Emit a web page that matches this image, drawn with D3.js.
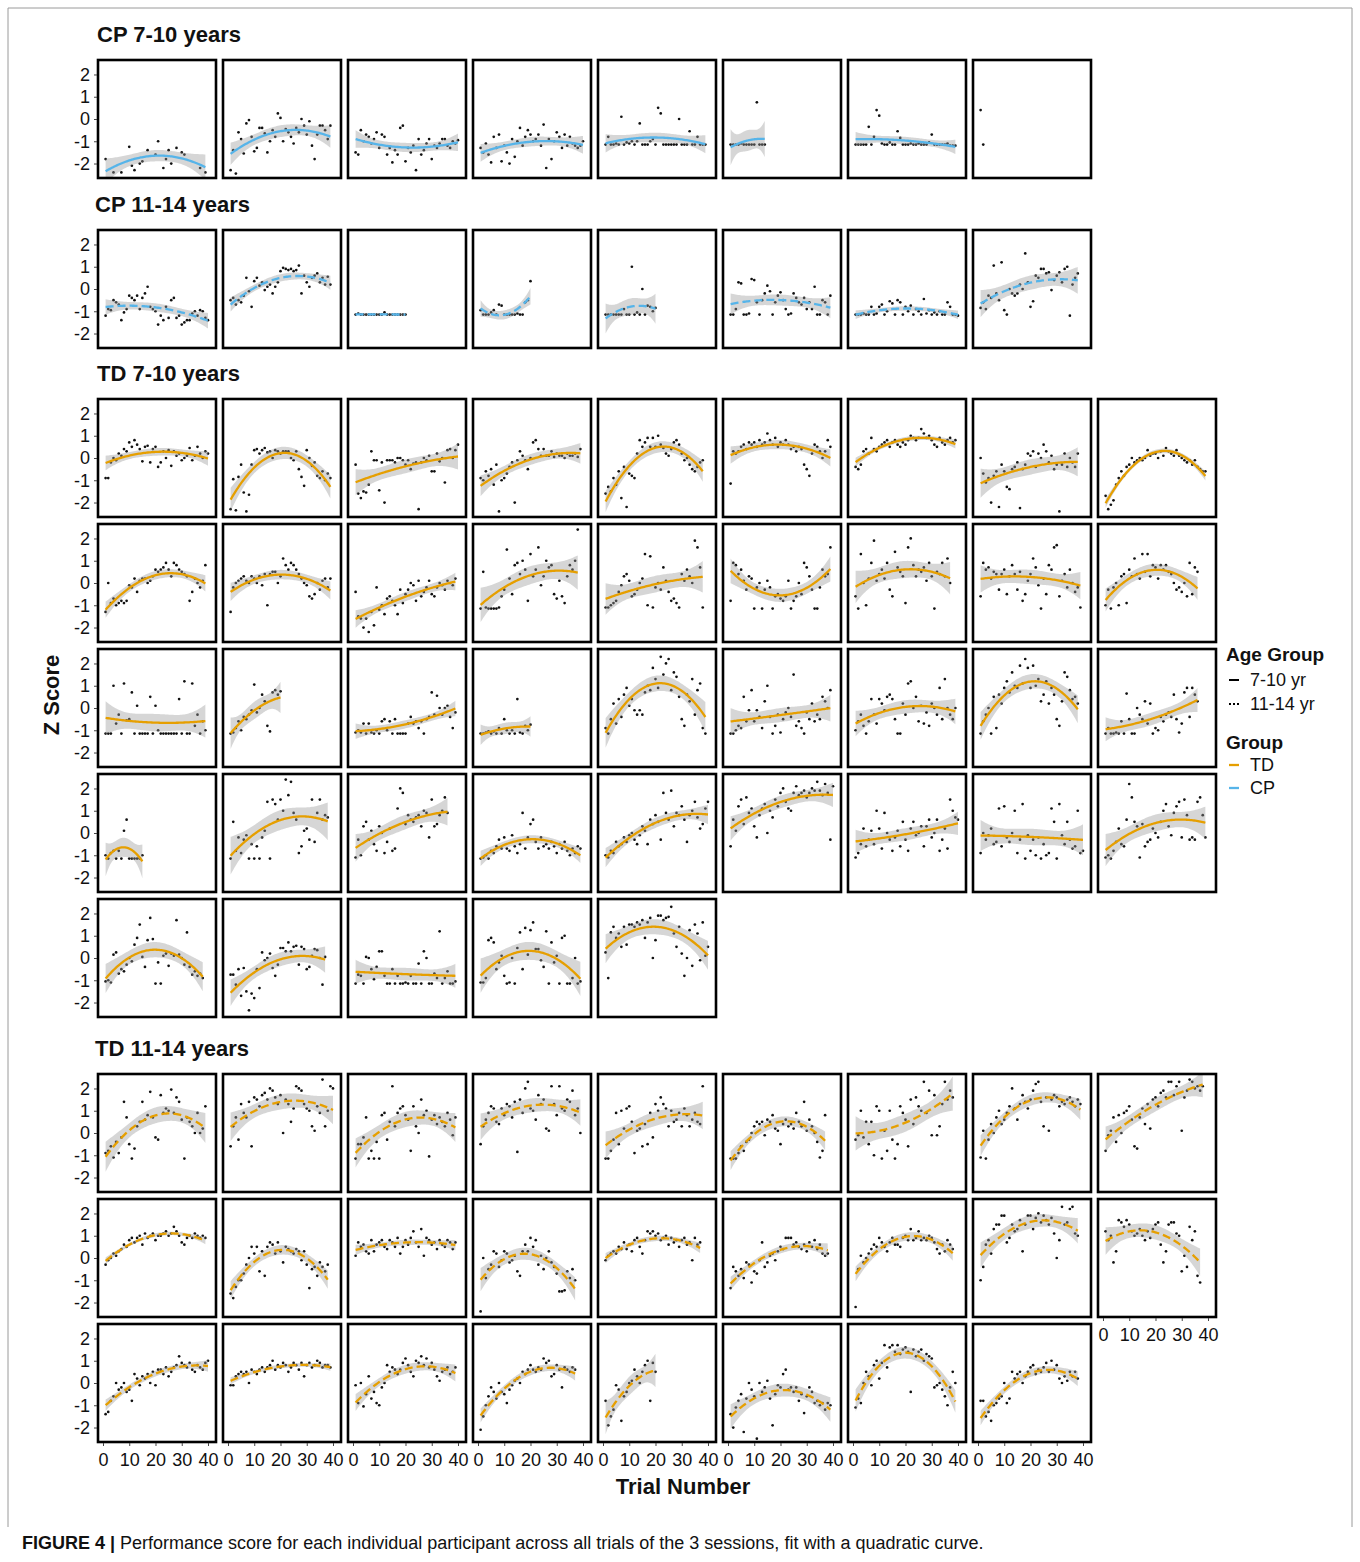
<!DOCTYPE html>
<meta charset="utf-8">
<script src="https://cdnjs.cloudflare.com/ajax/libs/d3/7.8.5/d3.min.js"></script>
<style>
body { margin: 0; background: #fff; }
text { font-family: "Liberation Sans", Arial, sans-serif; fill: #111; }
</style>
<body>
<script>
// one array per participant, value i = z score at trial i+1, _ = no trial
var _ = null;

var cp710 = [
  [-1.8,_,_,-2.4,_,_,-2.4,_,_,-1.25,-2.1,-2.3,_,-2.0,-1.9,_,-1.4,_,_,-1.6,-1.0,_,-2.2,-1.8,-1.4,-2.0,_,-1.3,_,-1.5,-1.6,_,_,_,_,_,-2.2,_,-2.4],
  [-2.3,-1.4,-2.45,-0.6,-0.9,-1.55,-0.2,-0.05,-0.8,-1.45,-1.3,-0.4,-0.4,-0.65,-1.5,-1.0,-0.5,-0.8,0.25,0.05,-1.0,-0.45,-0.6,-0.8,-1.1,-0.4,-0.6,0.0,-0.3,-0.7,-0.1,-1.2,-1.8,-0.7,-0.3,-0.3,-0.5,-0.9,-0.3],
  [-1.5,-1.6,-0.5,-1.0,-0.7,-0.8,-1.1,-0.9,-0.6,-1.3,-0.7,-0.8,-1.6,-1.3,-1.95,-1.4,-1.6,-0.4,-0.3,-1.9,-1.3,-1.5,-1.2,-2.3,-0.9,-1.6,-1.4,-1.1,-0.9,-1.8,-1.2,-1.3,-1.1,-0.9,-0.9,-1.2,-1.3,-1.0,-1.1,-0.95],
  [-1.3,-1.5,-1.1,-1.6,-1.95,-0.8,-1.3,-0.7,-1.9,-1.2,-1.5,-2.0,-0.9,-1.7,-1.0,-0.4,-1.2,-0.8,-0.5,-0.7,-1.0,-0.9,-0.7,-1.2,-0.25,-2.2,-0.9,-1.8,-1.0,-0.6,-0.8,-1.3,-0.7,-1.2,-0.8,-1.1,-1.2,-1.3,-1.2,-1.0],
  [-1.15,-0.8,-1.15,-1.15,-1.1,-1.15,0.1,-1.15,-1.05,-1.1,-1.0,-1.15,-1.0,-0.2,-1.15,-1.15,-1.15,-1.0,-0.9,-1.15,0.5,0.25,-1.15,-1.15,-1.15,-1.15,-1.15,-1.15,0.0,-1.15,-1.15,-1.15,-0.55,-1.15,-1.15,-0.8,-1.15,-1.15,-1.15],
  [-1.15,-1.15,-1.15,-1.15,-1.1,-1.15,-1.15,-1.15,-1.15,-1.15,0.75,-1.15,-1.15,-1.15],
  [-1.15,-1.15,-1.15,-1.15,-1.15,-0.35,-1.15,-0.8,0.4,0.15,-1.1,-1.15,-1.15,-1.05,-1.15,-1.15,-0.55,-0.85,-1.15,-1.15,-1.15,-1.1,-1.15,-1.15,-1.1,-1.15,-1.15,-1.15,-1.05,-0.7,-1.15,-1.15,-1.15,-1.15,-1.15,-1.1,-1.2,-1.2,-1.2],
  [0.4,-1.15]
];

var cp1114 = [
  [-1.2,-0.9,-0.95,-0.5,-0.6,-0.7,-1.4,-1.05,-0.9,-0.3,-0.4,-0.5,-0.3,-0.9,-0.4,-0.2,0.1,-0.8,-0.9,-1.0,-1.6,-1.2,-1.4,-0.8,-1.3,-0.5,-0.4,-1.3,-1.2,-1.6,-1.5,-1.4,-1.4,-1.1,-1.0,-1.2,-0.95,-1.0,-1.3,-1.4],
  [-0.5,-0.4,-0.7,-0.5,-0.6,-0.3,0.5,-0.1,-0.8,0.35,0.5,0.15,0.3,-0.05,0.1,0.2,-0.2,0.1,0.3,0.8,0.95,0.9,0.85,0.9,0.8,0.85,1.05,-0.2,0.6,0.3,0.1,0.5,0.6,0.7,0.3,0.5,0.2,0.55,0.2],
  [-1.15,-1.1,-1.15,-1.15,-1.15,-1.15,-1.15,-1.15,-1.15,-1.15,-1.15,-1.05,-1.15,-1.15,-1.15,-1.15,-1.15,-1.15,-1.15,-1.15],
  [-0.95,-1.15,-1.15,-1.15,-1.05,-0.95,-1.15,-0.7,-0.75,-1.15,-1.15,-1.15,-1.15,-1.15,-1.1,-1.15,-1.15,-0.6,-0.5,0.35],
  [-1.15,-1.15,-1.15,-1.15,-1.15,-1.15,-1.15,-0.9,-1.15,-1.15,1.0,-1.15,-1.05,-1.15,0.0,-1.15,-0.75,-0.8,-1.0,-0.85],
  [-1.15,-1.15,-0.9,0.3,0.25,-1.15,-1.15,-1.1,0.45,0.4,-0.6,-1.15,-0.5,-0.2,0.15,-0.1,-1.15,-0.6,-0.3,-0.15,-0.5,-0.9,-1.15,-1.1,-0.2,-0.4,-0.6,-0.7,-0.4,-0.9,-0.6,-0.9,0.1,-1.15,-1.15,-0.5,-0.6,-1.15,-0.3],
  [-1.15,-1.15,-1.15,-1.1,-1.15,-1.15,-0.8,-1.15,-1.1,-0.8,-0.7,-1.15,-1.0,-0.55,-0.65,-1.15,-0.5,-0.6,-1.15,-0.8,-1.0,-0.75,-1.15,-0.9,-1.0,-1.15,-0.45,-1.1,-0.95,-1.15,-1.05,-1.15,-1.0,-1.15,-1.15,-0.6,-0.8,-1.15,-1.15,-1.2],
  [-0.85,-0.6,-0.9,-0.3,-0.4,1.05,-0.2,-0.5,1.2,-0.95,-1.15,0.0,-0.2,-0.3,-0.2,0.2,0.0,1.6,0.3,-0.8,-0.55,0.6,0.5,0.9,0.9,0.7,0.75,-0.05,0.4,0.6,0.75,0.3,0.9,1.0,-1.2,0.2,0.5,0.7]
];

var td710 = [
  [-0.9,-0.9,-0.2,0.0,-0.1,0.2,0.1,0.4,0.3,0.7,0.5,0.8,0.6,0.4,-0.15,0.5,0.55,-0.2,0.4,0.5,-0.4,-0.2,0.3,0.0,0.35,-0.35,0.3,0.1,0.2,-0.1,0.0,0.1,0.45,-0.1,0.1,0.5,0.2,0.0,0.3,0.2],
  [-2.3,-0.95,-2.35,-0.85,-0.3,-1.55,-2.4,-1.65,-0.3,0.35,0.4,0.2,0.35,0.45,0.25,0.3,0.0,0.35,0.3,0.2,0.3,0.3,0.3,0.0,-0.1,0.3,-0.5,-0.85,-1.25,0.35,0.0,-0.35,-0.2,-0.8,-0.9,-0.6,-1.0,-0.7,-0.9],
  [-0.3,-1.6,-1.8,-1.5,-1.55,-1.2,0.3,-0.1,-0.1,-1.45,-0.2,-2.0,-0.1,-0.1,-0.1,-0.2,0.0,0.0,-0.1,-0.3,-0.1,-0.5,-0.25,-0.2,-2.3,-0.2,0.0,-0.1,0.1,-0.6,-0.6,0.2,-0.15,0.0,-1.1,0.35,0.4,0.0,0.35,0.6],
  [-0.9,-1.0,-0.6,-0.8,-0.5,-1.2,-0.3,-2.4,-1.0,-0.9,-0.7,-0.4,-0.2,-2.0,-0.1,0.3,0.1,-0.1,-0.5,0.0,0.7,0.8,0.4,0.1,0.4,0.1,0.1,0.3,0.05,0.2,0.1,0.1,0.0,0.2,0.1,0.1,0.2,0.05,0.4],
  [-1.6,-1.3,-1.5,-0.9,-1.2,-0.6,-1.8,-0.4,-2.2,-0.7,-0.8,-0.9,0.2,0.8,0.5,0.7,0.9,0.5,0.9,0.5,1.0,0.6,0.45,0.2,0.1,0.4,0.7,0.8,0.6,0.2,-0.1,0.0,-0.3,-0.5,-0.6,-0.4,-0.2,-0.1],
  [-1.15,0.3,0.2,0.3,0.5,0.6,0.4,0.7,0.6,0.7,0.5,0.8,0.6,0.7,1.1,0.8,0.6,0.9,0.5,0.7,0.6,0.8,0.6,0.4,0.5,0.3,0.5,0.4,-0.3,-0.5,-0.8,0.2,0.6,0.5,0.3,0.0,0.3,0.8,0.5],
  [-0.4,-0.5,-0.3,0.3,0.4,0.2,0.9,0.4,0.3,0.5,0.6,0.7,0.8,0.5,0.7,0.8,0.6,0.5,0.7,0.6,0.8,1.0,0.9,0.8,0.9,1.3,1.1,0.9,1.0,0.8,0.6,0.5,0.9,0.7,0.6,0.8,0.9,0.7,0.8],
  [0.0,-0.7,-1.1,-0.9,-2.0,-0.8,-0.6,-2.2,-0.3,-0.6,-1.3,-1.4,-0.5,-0.4,-0.2,-2.25,-0.5,-0.3,0.2,0.1,0.3,-0.4,0.2,0.0,0.6,0.3,-0.2,0.1,-0.5,-0.3,-2.4,-0.3,0.2,-0.4,0.0,-0.2,-0.4,0.2],
  [-1.7,-2.3,-2.1,-1.9,-1.2,-0.9,-0.6,-0.8,-0.4,-0.3,0.0,-0.2,-0.1,0.0,-0.1,0.0,0.35,0.1,0.2,0.2,0.0,0.3,0.1,0.45,0.3,0.2,0.1,0.35,0.1,0.0,-0.1,-0.2,-0.1,-0.3,-0.1,-0.4,-0.5,-0.6,-0.6],

  [-1.3,0.0,-0.9,-0.7,-1.0,-0.9,-0.8,-0.9,-0.8,-0.1,-0.2,0.2,-0.4,0.1,0.2,0.2,0.0,0.1,0.3,0.6,0.5,0.6,0.7,0.9,0.6,0.3,0.9,0.8,0.6,0.5,0.4,0.3,-0.8,-0.4,0.2,0.0,-0.2,0.1,0.8],
  [-1.3,-0.2,0.0,0.1,0.2,0.3,0.1,0.0,0.3,0.2,0.0,0.3,-0.1,0.4,-1.0,0.4,0.5,0.5,0.0,0.3,1.1,0.8,0.6,0.9,0.8,0.6,0.4,0.2,0.0,-0.1,-0.6,-0.7,-0.5,0.0,-0.3,0.1,0.2,-0.2,0.2],
  [-0.4,-1.5,-1.6,-2.0,-1.6,-2.2,-1.3,-1.9,-0.2,-1.2,-1.0,-1.4,-0.7,-0.6,-0.8,-1.0,-1.4,-0.3,-0.9,-0.5,-0.3,0.0,-0.1,-0.8,0.1,-0.6,-0.4,-0.2,0.1,-0.5,-0.6,-0.2,0.0,-0.1,-0.3,0.1,0.0,-0.1,0.2],
  [-1.15,0.5,-1.1,-1.15,-1.15,-1.15,-1.15,-1.1,-0.6,-0.3,1.5,0.2,-0.5,0.8,0.9,0.4,1.0,0.6,-0.8,1.3,0.3,0.6,1.6,-0.1,0.3,1.0,0.7,0.8,-0.5,-0.7,0.1,-0.6,-0.9,0.3,0.8,0.6,1.0,2.4],
  [-1.1,-1.1,-1.0,-0.9,-0.8,-0.4,-0.1,0.3,0.4,0.1,-0.6,-0.5,-0.3,0.0,0.2,1.3,-1.0,1.2,-1.1,-0.2,0.0,-0.3,0.7,0.1,-0.4,-0.8,-0.7,-0.9,-1.1,0.4,0.1,0.6,0.3,0.0,1.9,1.6,0.7,-1.1],
  [-0.8,0.9,0.8,0.4,0.6,0.1,-0.3,0.3,0.2,-1.15,-0.2,0.0,-1.15,-0.3,0.1,-0.2,-1.15,-0.6,-0.5,-0.7,-0.8,-0.6,0.1,-1.15,-0.8,-0.6,0.0,-0.5,0.9,0.7,0.3,-0.3,-1.15,-1.15,-0.2,0.6,0.3,0.4,1.6],
  [-0.6,-1.15,1.3,0.0,-1.0,0.2,0.9,1.9,0.1,0.4,0.6,0.2,0.9,-0.3,-0.6,1.4,0.7,0.5,0.3,-0.9,1.6,2.0,0.8,0.3,0.6,0.5,0.7,0.1,0.9,0.3,-1.15,0.5,0.4,0.9,0.3,1.1,0.0],
  [-0.6,0.9,0.6,0.7,0.2,0.5,0.4,-0.3,0.4,0.6,-0.5,0.3,0.8,0.4,-0.3,0.5,-0.8,-0.5,0.1,0.4,1.1,0.7,-0.1,-1.15,0.2,-0.5,0.8,0.6,1.6,1.7,-0.6,0.1,0.4,-0.2,0.6,0.0,-0.4,-0.2,-1.1],
  [-1.0,-0.3,-1.15,-0.2,0.0,-1.0,0.3,0.4,-0.9,0.6,0.3,1.1,0.4,0.2,1.3,0.5,1.3,0.3,0.8,0.7,0.2,0.8,0.6,0.8,0.5,0.4,0.0,-0.3,-0.2,-0.4,0.0,-0.6,0.9,-0.5,0.7,0.5],

  [-1.15,-1.15,-1.15,1.0,-0.7,-0.3,-1.15,1.1,-0.55,-0.5,0.7,-1.15,0.1,-1.15,-1.15,-1.15,-1.15,0.5,-1.15,0.1,-1.0,-1.15,-1.15,-1.15,-1.15,-1.15,-1.15,-1.15,0.4,-1.15,1.2,-1.15,-1.15,1.1,-0.8,-0.3,-1.15,-0.6,-1.0],
  [-1.15,-1.1,-0.9,-0.6,-1.0,-0.4,-0.5,-0.3,-0.1,1.05,-0.2,0.0,0.6,0.3,-0.8,-1.05,0.7,0.8,0.6,0.75],
  [-1.1,-1.0,-1.1,-0.7,-1.15,-0.7,-1.1,-1.15,-1.0,-1.15,-0.6,-0.5,-1.0,-0.6,-1.15,-0.5,-1.15,-1.15,-1.15,-1.15,-0.7,-0.4,-0.7,-0.6,-0.9,-0.6,-1.15,-0.5,-0.4,0.7,-0.3,0.55,0.0,-0.3,0.0,0.1,-0.4,-0.9,-0.2],
  [-1.15,-1.15,-1.1,-1.05,-1.15,-1.05,-1.15,-0.9,-1.15,-0.5,-1.0,-1.15,-1.0,-1.15,0.4,-1.1,-1.15,-0.8,-1.0,-0.75],
  [-0.9,-1.15,-0.5,0.2,-0.7,0.4,-0.4,0.6,0.9,0.1,0.4,-0.1,-0.3,-0.1,-0.3,0.7,1.0,0.8,1.8,1.3,0.9,2.3,1.5,2.0,2.2,0.8,1.6,1.4,0.5,-0.5,-0.8,0.6,0.3,1.3,-0.3,0.8,1.1,-0.9,-1.15],
  [-1.15,-1.15,-1.0,-0.8,-0.9,0.5,-0.6,-0.1,0.8,-0.6,-0.1,-0.4,-0.9,0.3,1.0,-0.4,-1.15,-0.8,-0.3,-1.1,-0.5,-0.2,0.0,-0.4,1.5,-0.8,-0.6,-0.9,-1.15,-0.2,-0.5,0.2,-0.6,-0.3,-0.5,0.5,0.3,0.0,0.8],
  [-1.0,-0.6,-0.3,-0.8,-1.15,-0.6,0.4,-0.3,-0.7,0.4,0.2,-0.1,0.5,0.6,0.4,-0.5,-1.15,-1.15,0.2,-0.3,1.1,1.2,0.0,0.5,-0.6,0.1,-0.7,-0.2,-0.8,0.2,0.0,-0.3,0.9,-0.5,1.3,0.0,-0.3,-0.5,0.0],
  [-1.15,-0.6,-0.3,0.0,-1.15,0.5,-0.9,0.6,0.2,0.9,1.2,0.7,1.6,1.0,0.9,1.9,1.1,2.2,1.8,0.9,1.9,1.0,1.3,0.3,0.6,1.2,0.2,0.9,0.6,-0.5,-0.8,0.3,1.6,1.4,0.8,0.4,0.5,0.2],
  [-1.15,-0.9,-1.15,-1.15,-1.1,-1.15,-0.6,-1.15,0.65,-0.5,-1.15,-1.15,0.0,-0.3,-0.5,0.3,-0.7,0.2,-1.15,-0.9,-1.0,-0.4,-0.6,-0.3,-0.2,-0.4,0.6,-0.5,-1.1,-0.7,0.7,0.9,-0.4,0.9,0.6,0.3],

  [-1.0,-1.15,-0.9,-0.8,-1.15,-0.8,-1.15,0.1,0.6,-1.15,-1.15,-1.15,-1.15,-1.15,-1.0],
  [-1.15,0.5,-0.8,-0.2,-0.9,-0.3,-0.1,-1.15,-0.5,-1.15,-0.6,-1.15,-0.2,0.1,1.4,-1.15,1.5,1.3,0.6,1.5,1.0,2.4,1.7,2.3,0.9,0.6,-0.9,-0.6,0.1,0.2,-0.3,1.5,-0.4,0.9,1.5,0.6,0.8,0.7],
  [-1.1,-0.3,-1.0,0.3,0.5,-0.3,0.1,-0.5,-0.8,0.3,0.0,-0.9,-0.4,0.2,-0.8,-0.7,1.1,2.0,1.8,0.4,0.8,0.6,0.5,0.7,0.8,0.3,1.0,0.9,-0.2,1.5,0.3,0.4,0.8,1.0,1.6,0.9],
  [-1.15,-1.1,-1.0,-1.15,-0.8,-0.9,-0.6,-0.3,-0.7,-0.2,-0.7,-0.8,-0.1,-0.6,-0.9,-0.5,0.9,-0.7,-0.2,0.4,0.6,-0.4,-0.7,-0.2,-0.6,-0.5,-0.7,-0.4,-0.6,-0.9,-0.5,-0.7,-0.4,-0.8,-1.0,-0.7,-0.9,-0.6,-0.7],
  [-1.0,-1.1,-0.8,-0.9,-0.4,-0.6,-0.5,-0.2,-0.4,-0.1,0.0,-0.3,-0.5,-0.1,0.3,0.1,-0.5,0.6,0.4,0.8,0.5,-0.3,1.8,0.9,0.6,1.9,0.3,0.9,0.8,1.2,0.6,-0.4,0.8,1.0,1.4,0.7,0.2,0.4,1.1,1.4],
  [-0.6,0.6,0.1,1.2,1.5,0.4,1.6,0.9,1.1,0.3,-0.2,0.8,1.1,1.3,0.0,1.0,0.7,1.5,1.2,1.8,2.0,1.4,1.1,1.0,1.8,2.1,1.7,1.8,1.9,1.6,1.8,2.0,1.9,2.3,1.9,1.7,2.2,1.8,-0.3,2.1],
  [-1.1,-0.9,-0.5,0.2,-0.6,-0.3,0.1,-0.5,1.0,0.2,-0.7,0.9,0.0,-0.3,-0.8,-0.2,0.1,-0.6,0.5,-0.3,-0.8,0.2,0.5,-0.1,0.0,0.3,-0.6,0.3,0.6,-0.2,0.0,0.6,-0.8,-0.3,0.2,-0.7,1.5,1.0,0.7,0.6],
  [-0.9,0.0,-0.3,-0.1,0.2,-0.5,-0.4,1.1,-0.6,1.2,-0.2,-0.4,0.0,1.0,-0.9,-0.3,1.3,-1.15,-0.1,-0.8,-0.3,-1.0,-0.2,-1.15,-0.5,-1.0,-0.9,1.1,0.5,-1.15,1.3,-0.1,-0.5,0.5,-0.3,-0.7,-0.6,1.0,-0.9,-0.8],
  [-1.1,-1.0,-1.15,-0.8,-0.4,0.2,-0.5,-0.6,0.6,2.2,1.6,0.5,0.3,-1.1,0.4,-0.6,-0.4,-0.3,0.2,0.0,-0.2,0.5,1.0,1.3,0.3,-0.1,0.9,1.2,1.4,-0.2,1.5,0.8,-0.3,-0.2,-0.3,1.4,1.6,0.8,-0.2],

  [-1.05,-1.0,-1.1,0.15,0.25,-0.7,-0.5,-0.6,-0.3,0.0,-0.15,0.6,0.9,1.5,0.05,-0.4,0.8,1.8,0.85,-1.15,-0.2,-1.15,0.1,0.2,-0.35,0.2,0.1,1.7,0.15,0.0,-0.3,1.15,-0.4,-0.75,-0.6,-0.8,-0.7,-0.9],
  [-0.75,-0.75,-1.2,-0.5,-1.7,-0.45,-1.5,-2.35,-1.6,-1.8,-0.5,-1.35,0.25,-0.1,0.0,0.2,-0.45,-0.8,-0.3,0.45,0.45,0.3,0.7,0.3,0.5,0.55,-0.3,0.5,0.4,-0.5,-0.4,0.1,0.4,0.35,0.0,-1.2,0.05],
  [-1.15,-0.75,-0.8,-1.15,0.05,0.0,-0.5,-0.95,-0.4,0.3,0.3,-0.8,-1.15,-1.15,-0.5,-1.15,-0.8,-1.15,-1.15,-1.1,-1.15,-0.8,-1.15,-1.15,-0.25,-1.15,0.3,0.0,-1.15,-1.15,-0.7,-0.9,1.2,-1.15,-0.9,-0.6,-1.15,-1.15,-1.05],
  [-1.1,-1.1,-0.9,0.8,0.9,0.7,-0.5,-0.2,0.1,-0.8,-1.15,-1.1,0.0,-1.15,0.45,1.15,-0.5,1.35,0.15,1.25,1.6,0.4,0.4,-0.1,-0.4,1.2,-1.15,0.7,-0.2,0.1,-1.15,0.9,1.0,-1.15,-1.15,-0.9,0.0,-1.15,-1.05],
  [0.25,-0.9,1.15,1.4,0.9,1.1,0.5,1.4,0.6,1.5,1.5,1.4,1.6,1.5,1.7,0.9,1.6,1.8,0.0,0.8,1.9,1.9,1.7,1.8,1.85,2.3,1.1,0.5,1.4,0.2,-0.8,0.0,1.25,-0.35,1.5,1.1,-0.1,1.6,0.1,0.5]
];

var td1114 = [
  [-0.9,-0.8,-0.6,-1.1,-0.4,-0.9,-0.2,1.4,0.7,-0.5,-1.15,-0.7,0.3,0.5,1.4,0.6,0.8,1.85,0.7,-0.2,-0.3,1.7,0.9,1.1,1.0,1.95,0.9,1.6,1.4,0.6,-1.15,0.7,0.5,0.3,0.0,0.9,0.0,0.2,1.2],
  [-0.6,0.3,0.7,-0.3,1.3,0.9,0.7,1.4,-0.6,1.6,1.5,1.2,1.7,1.8,1.5,2.0,1.9,1.6,1.3,1.7,0.0,1.5,1.3,0.5,1.1,2.1,2.0,1.9,1.3,1.1,1.0,0.3,0.1,1.2,0.9,2.4,0.3,1.0,2.1,2.0],
  [-1.15,-0.5,-0.5,-0.2,0.7,-1.15,-0.8,-1.15,-0.4,-1.15,0.8,0.9,-0.3,0.5,2.1,0.3,0.9,1.1,1.2,0.8,0.6,-0.8,1.2,0.3,0.0,1.5,0.8,1.0,-1.05,0.6,0.8,0.4,0.7,0.5,0.3,0.9,0.6,-0.1,0.7],
  [-0.5,0.3,0.6,0.9,1.2,1.1,0.5,0.4,1.1,0.8,1.3,1.2,0.7,1.4,-0.85,1.5,0.9,2.0,2.3,1.1,1.0,0.6,1.7,1.3,1.5,0.2,0.1,2.1,1.3,0.8,2.1,1.1,1.0,1.5,1.4,1.9,0.8,1.1,0.0],
  [-1.15,-1.15,-0.8,-0.3,0.9,-0.5,1.0,0.2,1.1,1.2,0.5,-0.9,0.1,0.2,-0.6,0.4,-0.5,0.9,-0.2,1.3,1.0,1.6,1.3,1.1,0.3,1.0,0.5,0.6,0.9,0.3,1.1,0.8,0.3,0.6,0.9,0.5,0.4,2.1],
  [-1.15,-1.15,-1.15,-0.9,-0.6,-0.8,-0.4,-0.3,0.0,0.3,0.5,0.4,0.5,-0.1,0.6,0.5,0.8,0.2,0.1,-0.5,0.4,0.6,0.3,0.4,0.2,0.9,0.5,0.3,1.4,0.1,0.6,0.3,0.0,-0.4,-1.1,-0.8,0.8],
  [-0.3,-0.1,1.0,-0.2,0.5,-0.5,0.5,-1.0,1.2,1.0,-1.15,0.1,-0.8,1.0,-0.3,-1.15,-0.5,1.2,0.9,0.6,-0.6,1.5,0.4,1.6,1.2,1.0,2.3,0.9,1.9,-0.1,1.7,-0.1,0.3,1.3,2.3,1.5,1.9,1.6],
  [-1.1,0.1,-1.15,-0.3,0.4,0.0,0.7,1.0,0.4,0.6,0.9,1.2,2.0,1.1,0.6,1.3,1.7,1.4,1.1,1.5,1.9,2.2,2.3,1.4,0.3,1.6,0.1,1.5,1.7,1.6,1.2,1.4,1.3,1.5,1.6,1.4,1.2,1.5,1.3],
  [-0.8,-0.1,0.1,0.7,-0.4,0.8,0.0,0.9,1.0,1.2,0.6,-0.6,-0.7,0.7,1.1,0.4,1.3,0.2,1.5,1.6,1.2,1.8,1.9,1.6,2.3,2.3,1.7,2.1,2.3,0.1,1.6,1.9,2.4,2.3,2.0,2.1,1.9,2.1],

  [-0.3,-0.1,0.0,0.2,0.1,0.3,0.4,0.6,0.5,0.8,0.9,0.7,0.9,1.0,0.6,1.1,0.9,1.0,1.1,0.8,1.0,1.0,1.1,1.2,1.0,1.1,1.4,1.2,1.0,0.7,0.6,0.9,1.0,0.9,1.1,1.0,0.9,1.0,0.9],
  [-1.6,-1.8,-1.3,-1.0,-1.0,-0.7,-0.3,0.0,0.5,0.2,0.5,-0.6,0.3,-0.8,0.5,0.7,0.6,0.2,0.7,0.3,-0.2,0.5,0.4,0.3,0.2,0.4,0.3,-0.1,0.3,-0.3,-1.35,-0.5,-0.4,-0.8,-0.2,-0.4,-0.6,-0.3],
  [0.1,0.7,0.5,0.6,0.3,0.2,0.8,0.3,0.6,0.7,0.8,0.5,0.4,0.8,0.7,0.5,0.9,0.2,0.5,0.8,0.6,0.9,1.2,0.7,0.5,1.3,0.1,0.9,0.8,0.6,0.7,0.4,0.8,0.6,0.5,0.8,0.7,0.4,0.7],
  [-2.4,0.0,-0.9,-0.5,-0.3,0.3,0.2,-0.4,-0.1,0.3,0.2,-0.2,-0.1,0.1,-0.6,-0.8,0.3,0.6,0.3,0.9,0.5,0.8,-0.3,0.1,-0.5,0.0,0.3,-0.2,-0.4,-0.7,-1.5,-1.5,-1.45,-0.6,-0.9,-0.5,-1.0],
  [-0.1,0.1,0.2,0.3,0.2,0.5,0.4,0.7,0.4,0.6,0.3,0.8,0.9,0.5,0.2,0.8,1.2,1.1,1.2,1.0,1.1,0.8,0.9,1.0,0.6,0.9,0.7,0.8,0.5,0.8,0.9,0.6,0.7,-0.1,0.9,0.6,0.7],
  [-1.35,-0.4,-0.6,-0.8,-0.5,-0.9,-0.2,-0.3,-1.1,-0.6,-0.7,-0.1,0.7,-0.4,-0.2,0.1,0.2,-0.1,0.3,0.5,0.4,0.9,0.9,0.9,0.6,0.7,0.5,0.4,0.6,0.3,0.7,0.5,0.8,0.4,0.6,0.2,0.1,0.2],
  [-2.2,-0.5,0.1,-0.2,0.0,0.2,0.4,0.6,0.5,0.9,0.7,0.5,0.3,0.7,0.9,0.6,0.6,0.5,0.9,1.0,0.8,1.3,0.8,0.9,1.2,0.8,0.9,0.8,1.0,0.9,0.7,0.4,0.2,0.6,0.3,0.8,0.6,0.4],
  [-1.0,-0.4,0.6,0.8,0.2,1.3,1.5,1.5,1.9,1.9,0.7,0.9,1.5,1.2,1.3,1.7,0.3,1.5,1.9,1.9,1.3,1.8,2.0,1.6,1.9,1.7,1.5,1.8,1.1,0.0,0.8,2.3,1.5,1.6,2.2,2.3,1.1,1.0],
  [1.2,0.8,1.0,-0.2,0.3,1.7,1.6,1.4,1.7,1.5,1.2,1.0,1.1,1.3,1.0,0.8,1.2,0.9,1.3,1.5,1.6,0.6,-0.2,0.3,1.5,1.6,1.6,1.1,1.0,-0.6,0.1,-0.4,1.4,0.8,1.2,-0.8,-1.1],

  [-1.4,-1.3,-0.8,-0.6,0.0,-0.3,-0.2,0.0,-0.4,-0.3,-0.8,0.4,0.2,-0.1,0.3,0.2,0.4,0.0,0.5,-0.1,0.6,0.6,0.4,0.7,0.3,0.5,0.7,0.8,1.2,0.9,0.8,0.7,0.9,0.6,0.5,0.8,0.7,0.6,0.9,1.0],
  [-0.1,-0.1,0.3,0.4,0.5,0.4,0.5,0.0,0.6,0.5,0.4,0.6,0.7,0.5,0.7,0.8,1.0,0.6,0.8,0.7,0.9,0.8,0.5,0.7,0.9,0.8,0.6,0.9,0.3,0.8,0.9,0.7,0.8,1.0,0.9,0.7,0.8,0.8,0.7],
  [-0.1,-0.9,0.0,-1.05,-0.5,0.3,-0.7,-0.4,-0.9,-1.0,-0.2,0.0,0.8,0.5,0.7,0.6,0.4,0.6,0.9,1.1,0.8,0.5,0.3,1.0,0.9,1.2,0.8,1.1,0.7,0.9,0.6,0.3,0.1,0.5,0.6,0.7,0.4,0.5,0.7],
  [-2.1,-1.5,-1.0,-0.6,-0.2,-0.4,-0.7,0.0,-0.4,-0.5,-0.9,-0.3,-0.1,0.1,0.2,0.0,0.5,0.4,0.6,0.8,0.6,0.5,0.7,0.6,1.1,0.9,1.0,0.3,0.4,0.8,0.6,-0.2,0.7,0.6,0.5,0.7,0.6],
  [-0.8,-1.9,-1.5,-1.2,-0.1,-0.3,-1.7,-0.6,-0.4,0.0,0.1,0.6,0.3,0.0,0.5,0.8,1.0,-0.8,0.9,0.5],
  [-1.4,-2.0,-1.1,-0.8,-0.5,-2.2,-0.7,0.0,-0.3,-0.6,-2.5,0.0,-0.4,-0.2,0.1,-0.7,-1.9,-0.5,-0.1,-0.2,0.4,0.6,-0.3,-0.2,-0.4,-0.2,-0.8,-0.5,-1.35,-0.6,-0.2,-0.4,-0.9,-0.8,-1.0,-0.9,-1.2,-0.9,-1.0],
  [-1.1,-0.7,-0.9,0.0,0.5,0.3,-0.1,0.8,1.0,0.2,0.9,1.7,0.7,1.6,1.7,1.4,1.7,1.3,1.5,1.6,1.4,-0.4,1.5,1.2,1.4,1.5,1.0,1.3,1.2,1.1,-0.2,-0.1,0.0,-0.3,-0.6,-1.0,-0.2,0.5,0.0],
  [-0.8,-0.8,-1.5,-1.3,-1.7,-1.0,-0.9,-0.7,-0.6,0.0,-0.9,-0.7,0.5,0.2,0.4,0.5,0.0,0.3,0.5,0.7,0.8,0.4,0.6,0.5,0.7,0.9,0.5,1.0,0.6,0.8,0.2,0.0,0.3,0.1,0.5,0.3,0.5,0.2]
];

var groupTitles = ["CP 7-10 years", "CP 11-14 years", "TD 7-10 years", "TD 11-14 years"];
var groupData = [cp710, cp1114, td710, td1114];
var groupKind = ["CP", "CP", "TD", "TD"];
var groupAge = ["7-10", "11-14", "7-10", "11-14"];
var yTicks = [-2, -1, 0, 1, 2];
var xTicks = [0, 10, 20, 30, 40];
var legendAge = ["7-10 yr", "11-14 yr"];
var legendGroup = ["TD", "CP"];

var width = 1360, height = 1562;
var pw = 118, ph = 118, colStep = 125, rowStep = 125, left = 98, perRow = 9;
var groupTop = [60, 230, 399, 1074];
var colors = {TD: "#E69F00", CP: "#56B4E9"};

var svg = d3.select("body").append("svg")
    .attr("width", width)
    .attr("height", height);

var x = d3.scaleLinear().domain([-1.9, 43.05]).range([0, pw]);
var y = d3.scaleLinear().domain([-2.65, 2.65]).range([ph, 0]);

svg.append("clipPath").attr("id", "pclip")
  .append("rect").attr("width", pw).attr("height", ph);

// frame round the figure
svg.append("path")
    .attr("d", "M8,1527V8H1352V1527")
    .attr("fill", "none")
    .attr("stroke", "#9a9a9a")
    .attr("stroke-width", 1);

function inv3(m) {
  var a = m[0][0], b = m[0][1], c = m[0][2],
      d = m[1][0], e = m[1][1], f = m[1][2],
      g = m[2][0], h = m[2][1], i = m[2][2];
  var A = e*i - f*h, B = -(d*i - f*g), C = d*h - e*g,
      D = -(b*i - c*h), E = a*i - c*g, F = -(a*h - b*g),
      G = b*f - c*e, H = -(a*f - c*d), I = a*e - b*d;
  var det = a*A + b*B + c*C;
  return [[A/det, D/det, G/det], [B/det, E/det, H/det], [C/det, F/det, I/det]];
}

// quadratic least squares fit with 95% confidence band
function quadFit(pts) {
  var S = [[0,0,0],[0,0,0],[0,0,0]], b = [0,0,0];
  pts.forEach(function(p) {
    var v = [1, p[0], p[0]*p[0]];
    for (var i = 0; i < 3; i++) {
      b[i] += v[i] * p[1];
      for (var j = 0; j < 3; j++) S[i][j] += v[i] * v[j];
    }
  });
  var inv = inv3(S);
  var c = [0,1,2].map(function(i) { return inv[i][0]*b[0] + inv[i][1]*b[1] + inv[i][2]*b[2]; });
  var pred = function(t) { return c[0] + c[1]*t + c[2]*t*t; };
  var sse = d3.sum(pts, function(p) { return Math.pow(p[1] - pred(p[0]), 2); });
  var df = pts.length - 3;
  var s2 = sse / df;
  var tq = 1.96 + 2.4 / df;
  var t0 = d3.min(pts, function(p) { return p[0]; }), t1 = d3.max(pts, function(p) { return p[0]; });
  return d3.range(81).map(function(k) {
    var t = t0 + (t1 - t0) * k / 80, v = [1, t, t*t], q = 0;
    for (var i = 0; i < 3; i++) for (var j = 0; j < 3; j++) q += v[i] * inv[i][j] * v[j];
    var f = pred(t), se = Math.sqrt(Math.max(0, s2 * q));
    return {t: t, f: f, lo: f - tq*se, hi: f + tq*se};
  });
}

var area = d3.area()
    .x(function(d) { return x(d.t); })
    .y0(function(d) { return y(d.lo); })
    .y1(function(d) { return y(d.hi); });
var line = d3.line()
    .x(function(d) { return x(d.t); })
    .y(function(d) { return y(d.f); });

var tickFmt = function(d) { return String(d); };

groupData.forEach(function(panels, gi) {
  svg.append("text")
      .attr("x", gi == 1 || gi == 3 ? 95 : 97)
      .attr("y", groupTop[gi] - 18)
      .attr("font-size", 22)
      .attr("font-weight", "bold")
      .text(groupTitles[gi]);

  panels.forEach(function(vals, pi) {
    var col = pi % perRow, row = Math.floor(pi / perRow);
    var g = svg.append("g")
        .attr("transform", "translate(" + (left + col*colStep) + "," + (groupTop[gi] + row*rowStep) + ")");

    var pts = [];
    vals.forEach(function(v, i) { if (v !== null) pts.push([i + 1, v]); });

    var inner = g.append("g").attr("clip-path", "url(#pclip)");
    inner.selectAll("circle")
      .data(pts)
      .enter().append("circle")
        .attr("cx", function(d) { return x(d[0]); })
        .attr("cy", function(d) { return y(d[1]); })
        .attr("r", 1.35)
        .attr("fill", "#111");

    if (pts.length > 4) {
      var fit = quadFit(pts);
      inner.append("path")
          .attr("d", area(fit))
          .attr("fill", "#999")
          .attr("fill-opacity", 0.4);
      inner.append("path")
          .attr("d", line(fit))
          .attr("fill", "none")
          .attr("stroke", colors[groupKind[gi]])
          .attr("stroke-width", 2.3)
          .attr("stroke-dasharray", groupAge[gi] == "11-14" ? "8,4" : null);
    }

    g.append("rect")
        .attr("width", pw)
        .attr("height", ph)
        .attr("fill", "none")
        .attr("stroke", "#000")
        .attr("stroke-width", 2.6);

    if (col == 0) {
      var ya = g.append("g")
          .attr("transform", "translate(-1,0)")
          .call(d3.axisLeft(y).tickValues(yTicks).tickFormat(tickFmt).tickSize(3).tickPadding(4));
      ya.select(".domain").remove();
      ya.selectAll("line").attr("stroke", "#444");
      ya.selectAll("text").attr("font-size", 18).attr("font-family", null).attr("fill", "#222");
    }

    if (gi == groupData.length - 1 && pi + perRow >= panels.length) {
      var xa = g.append("g")
          .attr("transform", "translate(0," + (ph + 1) + ")")
          .call(d3.axisBottom(x).tickValues(xTicks).tickFormat(tickFmt).tickSize(3).tickPadding(7));
      xa.select(".domain").remove();
      xa.selectAll("line").attr("stroke", "#444");
      xa.selectAll("text").attr("font-size", 18).attr("font-family", null).attr("fill", "#222");
    }
  });
});

// axis titles
svg.append("text")
    .attr("transform", "translate(59,695)rotate(-90)")
    .attr("text-anchor", "middle")
    .attr("font-size", 22)
    .attr("font-weight", "bold")
    .text("Z Score");

svg.append("text")
    .attr("x", 683)
    .attr("y", 1494)
    .attr("text-anchor", "middle")
    .attr("font-size", 22)
    .attr("font-weight", "bold")
    .text("Trial Number");

// legend
var lg = svg.append("g").attr("transform", "translate(1226,0)");
lg.append("text").attr("x", 0).attr("y", 661).attr("font-size", 19).attr("font-weight", "bold").text("Age Group");
legendAge.forEach(function(t, i) {
  var yy = 680 + i * 24;
  lg.append("line")
      .attr("x1", 3).attr("x2", 13).attr("y1", yy).attr("y2", yy)
      .attr("stroke", "#000").attr("stroke-width", 2)
      .attr("stroke-dasharray", i == 1 ? "2,2" : null);
  lg.append("text").attr("x", 24).attr("y", yy + 6).attr("font-size", 18).text(t);
});
lg.append("text").attr("x", 0).attr("y", 749).attr("font-size", 19).attr("font-weight", "bold").text("Group");
legendGroup.forEach(function(t, i) {
  var yy = 765 + i * 23;
  lg.append("line")
      .attr("x1", 3).attr("x2", 13).attr("y1", yy).attr("y2", yy)
      .attr("stroke", colors[t]).attr("stroke-width", 2.3);
  lg.append("text").attr("x", 24).attr("y", yy + 6).attr("font-size", 18).text(t);
});

// caption
var cap = svg.append("text").attr("x", 22).attr("y", 1549).attr("font-size", 18);
cap.append("tspan").attr("font-weight", "bold").text("FIGURE 4 |");
cap.append("tspan").text(" Performance score for each individual participant across all trials of the 3 sessions, fit with a quadratic curve.");
</script>
</body>
</html>
